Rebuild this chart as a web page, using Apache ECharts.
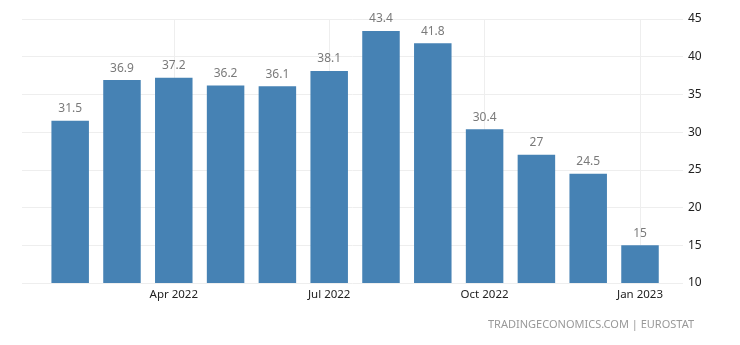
<!DOCTYPE html>
<html>
<head>
<meta charset="utf-8">
<script src="https://cdn.jsdelivr.net/npm/echarts@6/dist/echarts.min.js"></script>
<style>
  html, body { margin: 0; padding: 0; background: #fff; }
  #chart { width: 740px; height: 345px; }
</style>
</head>
<body>
<div id="chart"></div>
<script>
// Monthly values, Feb 2022 – Jan 2023
const months = ['Feb 2022', 'Mar 2022', 'Apr 2022', 'May 2022', 'Jun 2022', 'Jul 2022',
                'Aug 2022', 'Sep 2022', 'Oct 2022', 'Nov 2022', 'Dec 2022', 'Jan 2023'];
const values = [31.5, 36.9, 37.2, 36.2, 36.1, 38.1, 43.4, 41.8, 30.4, 27, 24.5, 15];
const xTickLabels = ['Apr 2022', 'Jul 2022', 'Oct 2022', 'Jan 2023'];
const yTicks = [10, 15, 20, 25, 30, 35, 40, 45];

const xTickPositions = xTickLabels.map(l => months.indexOf(l));
const FONT = 'Noto Sans';

const chart = echarts.init(document.getElementById('chart'));
chart.setOption({
  animation: false,
  backgroundColor: '#fff',
  grid: { left: 22, right: 57, top: 19, bottom: 62, containLabel: false },
  xAxis: {
    type: 'value',
    min: -0.93,
    max: 11.83,
    axisLine: { show: false },
    axisTick: { show: false, customValues: xTickPositions },
    axisLabel: {
      customValues: xTickPositions,
      formatter: v => months[Math.round(v)],
      color: '#222',
      fontFamily: FONT,
      fontSize: 11.5,
      margin: 6
    },
    splitLine: { show: true, lineStyle: { color: '#eeeeee', width: 1 } }
  },
  yAxis: {
    type: 'value',
    position: 'right',
    min: yTicks[0],
    max: yTicks[yTicks.length - 1],
    interval: 5,
    axisLine: { show: false },
    axisTick: { show: false },
    axisLabel: { color: '#222', fontFamily: FONT, fontSize: 12, margin: 5 },
    splitLine: { lineStyle: { color: '#eeeeee', width: 1 } }
  },
  series: [{
    type: 'bar',
    data: values.map((v, i) => [i, v]),
    barWidth: 37.5,
    itemStyle: { color: '#4682b4' },
    label: {
      show: true,
      position: 'top',
      distance: 6,
      formatter: p => String(p.value[1]),
      color: '#7a7a7a',
      fontFamily: FONT,
      fontSize: 12
    }
  }],
  graphic: [{
    type: 'text',
    right: 46,
    top: 319,
    style: {
      text: 'TRADINGECONOMICS.COM | EUROSTAT',
      fill: '#999',
      font: '11px "Noto Sans"'
    }
  }]
});
</script>
</body>
</html>
